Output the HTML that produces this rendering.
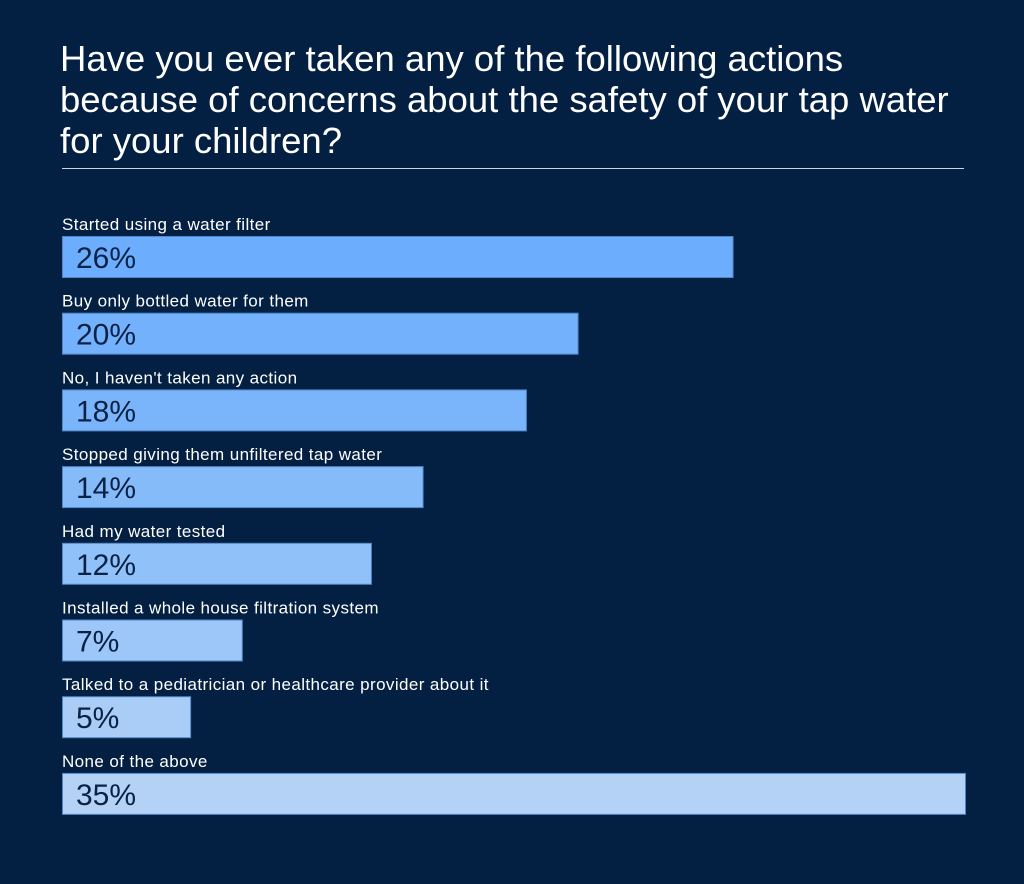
<!DOCTYPE html>
<html><head><meta charset="utf-8"><style>
body{margin:0;background:#031f42;}
#c{position:relative;width:1024px;height:884px;background:#031f42;font-family:"Liberation Sans",sans-serif;overflow:hidden}
h1{position:absolute;left:60px;top:38px;margin:0;color:#fff;font-weight:400;font-size:36.5px;line-height:41px;letter-spacing:0px;white-space:nowrap}
.rule{position:absolute;left:62px;top:168px;width:902px;height:1px;background:#c8d2e0}
</style></head><body>
<div id="c">
<h1>Have you ever taken any of the following actions<br>because of concerns about the safety of your tap water<br>for your children?</h1>
<div class="rule"></div>
<svg id="s" width="1024" height="884" style="position:absolute;left:0;top:0"></svg>
</div>
<script>
const categories=["Started using a water filter","Buy only bottled water for them","No, I haven't taken any action","Stopped giving them unfiltered tap water","Had my water tested","Installed a whole house filtration system","Talked to a pediatrician or healthcare provider about it","None of the above"];
const values=[26,20,18,14,12,7,5,35];
const colors=["#6cadfd","#73b1fc","#7ab5fb","#86bbfa","#91c1f9","#9dc7f8","#a9cdf7","#b3d2f6"];
const x0=62,xMax=966,maxV=35;
const xs=v=>(xMax-x0)*v/maxV;
const y=i=>236+i*76.7;
const ns="http://www.w3.org/2000/svg",s=document.getElementById('s');
categories.forEach((c,i)=>{
 const t=document.createElementNS(ns,'text');
 
 
 t.setAttribute('x',x0);t.setAttribute('y',y(i)-6);
 t.setAttribute('fill','#fff');t.setAttribute('font-size','17');t.setAttribute('letter-spacing','0.4');t.setAttribute('font-family','Liberation Sans, sans-serif');
 t.textContent=c;s.appendChild(t);
 const r=document.createElementNS(ns,'rect');
 
 
 r.setAttribute('x',x0+0.5);r.setAttribute('y',y(i)+0.5);r.setAttribute('width',xs(values[i])-1);r.setAttribute('height',41);
 r.setAttribute('fill',colors[i]);r.setAttribute('stroke','#4f86c6');r.setAttribute('stroke-width','1');
 s.appendChild(r);
 const v=document.createElementNS(ns,'text');
 
 
 v.setAttribute('x',x0+14);v.setAttribute('y',y(i)+32);
 v.setAttribute('fill','#0a2246');v.setAttribute('font-size','30');v.setAttribute('font-family','Liberation Sans, sans-serif');
 v.textContent=values[i]+'%';s.appendChild(v);
});
</script>
</body></html>
